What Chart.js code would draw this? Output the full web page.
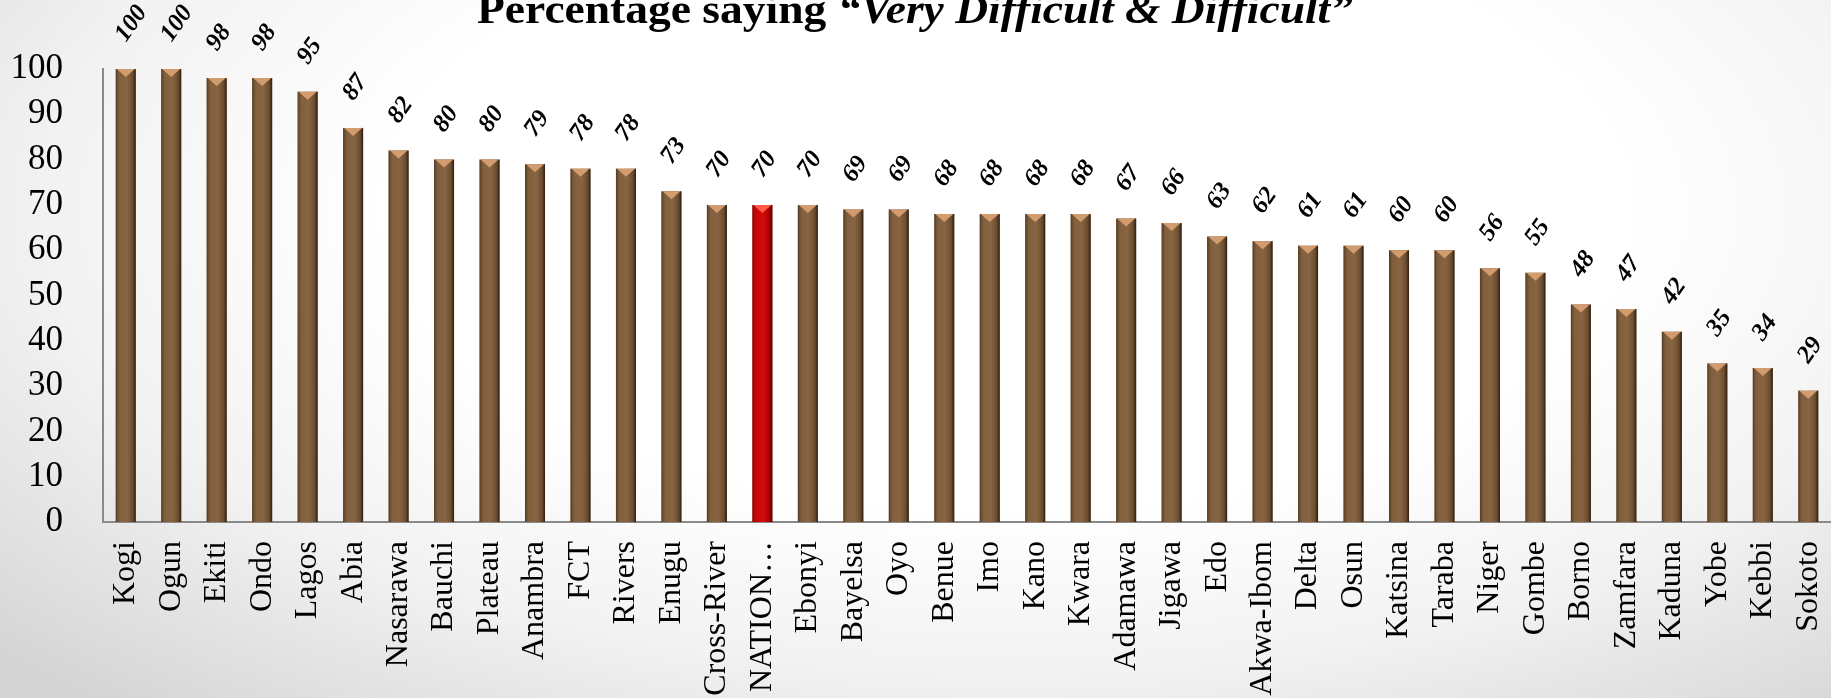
<!DOCTYPE html>
<html>
<head>
<meta charset="utf-8">
<script src="https://cdn.jsdelivr.net/npm/chart.js@4/dist/chart.umd.min.js"></script>
<style>
  html, body { margin: 0; padding: 0; }
  body {
    width: 1831px; height: 698px; overflow: hidden;
    background: radial-gradient(ellipse 75% 95% at 55% 30%, #ffffff 45%, #f2f2f2 70%, #d4d4d4 100%);
  }
  #c { display: block; }
</style>
</head>
<body>
<canvas id="c" width="1831" height="698"></canvas>
<script>
// ---- data ----
const categories = ["Kogi","Ogun","Ekiti","Ondo","Lagos","Abia","Nasarawa","Bauchi","Plateau","Anambra","FCT","Rivers","Enugu","Cross-River","NATION\u2026","Ebonyi","Bayelsa","Oyo","Benue","Imo","Kano","Kwara","Adamawa","Jigawa","Edo","Akwa-Ibom","Delta","Osun","Katsina","Taraba","Niger","Gombe","Borno","Zamfara","Kaduna","Yobe","Kebbi","Sokoto"];
const values = [100,100,98,98,95,87,82,80,80,79,78,78,73,70,70,70,69,69,68,68,68,68,67,66,63,62,61,61,60,60,56,55,48,47,42,35,34,29];
const highlightIndex = 14;
const yTicks = [0,10,20,30,40,50,60,70,80,90,100];
const titleMain = "Percentage saying ";
const titleItalic = "\u201CVery Difficult & Difficult\u201D";

const BROWN = '#7f5d3c';
const RED = '#c80000';

const barStyle = {
  id: 'barStyle',
  afterDatasetsDraw(chart) {
    const ctx = chart.ctx;
    const meta = chart.getDatasetMeta(0);
    meta.data.forEach((bar, i) => {
      const w = bar.width;
      const x0 = bar.x - w / 2, x1 = bar.x + w / 2;
      const top = bar.y, base = bar.base;
      const red = i === highlightIndex;
      ctx.save();
      const g = ctx.createLinearGradient(x0, 0, x1, 0);
      if (red) {
        g.addColorStop(0, 'rgba(60,0,0,0.55)');
        g.addColorStop(0.25, 'rgba(255,40,40,0.10)');
        g.addColorStop(0.55, 'rgba(255,60,60,0.18)');
        g.addColorStop(0.85, 'rgba(60,0,0,0.25)');
        g.addColorStop(1, 'rgba(30,0,0,0.75)');
      } else {
        g.addColorStop(0, 'rgba(40,25,10,0.55)');
        g.addColorStop(0.25, 'rgba(160,120,80,0.12)');
        g.addColorStop(0.55, 'rgba(170,130,90,0.20)');
        g.addColorStop(0.85, 'rgba(40,25,10,0.25)');
        g.addColorStop(1, 'rgba(20,10,0,0.8)');
      }
      ctx.fillStyle = g;
      ctx.fillRect(x0, top, w, base - top);
      const th = Math.min(8, base - top);
      ctx.beginPath();
      ctx.moveTo(x0 + 1, top);
      ctx.lineTo(x1 - 1, top);
      ctx.lineTo(bar.x, top + th);
      ctx.closePath();
      ctx.fillStyle = red ? '#ff5a4a' : '#d39c6e';
      ctx.fill();
      ctx.restore();
    });
  }
};

const dataLabels = {
  id: 'dataLabels',
  afterDatasetsDraw(chart) {
    const ctx = chart.ctx;
    const meta = chart.getDatasetMeta(0);
    ctx.save();
    ctx.font = 'italic bold 25px "Liberation Serif", serif';
    ctx.fillStyle = '#000';
    ctx.textAlign = 'left';
    ctx.textBaseline = 'middle';
    meta.data.forEach((bar, i) => {
      ctx.save();
      ctx.translate(bar.x - 5, bar.y - 30);
      ctx.rotate(-55 * Math.PI / 180);
      ctx.fillText(String(values[i]), 0, 0);
      ctx.restore();
    });
    ctx.restore();
  }
};

const titlePlugin = {
  id: 'titlePlugin',
  afterDraw(chart) {
    const ctx = chart.ctx;
    ctx.save();
    const f1 = 'bold 42px "Liberation Serif", serif';
    const f2 = 'italic bold 42px "Liberation Serif", serif';
    ctx.font = f1; const w1 = ctx.measureText(titleMain).width;
    ctx.font = f2; const w2 = ctx.measureText(titleItalic).width;
    const target = 876;
    const sx = target / (w1 + w2);
    const cx = 915;
    ctx.translate(cx - target / 2, 23);
    ctx.scale(sx, 1);
    ctx.fillStyle = '#000';
    ctx.textBaseline = 'alphabetic';
    ctx.textAlign = 'left';
    ctx.font = f1; ctx.fillText(titleMain, 0, 0);
    ctx.font = f2; ctx.fillText(titleItalic, w1, 0);
    ctx.restore();
  }
};

new Chart(document.getElementById('c'), {
  type: 'bar',
  data: {
    labels: categories,
    datasets: [{
      data: values,
      backgroundColor: values.map((v, i) => i === highlightIndex ? RED : BROWN),
      borderWidth: 0,
      barPercentage: 0.44,
      categoryPercentage: 1.0
    }]
  },
  options: {
    responsive: false,
    animation: false,
    devicePixelRatio: 1,
    layout: { padding: { top: 69, left: 0, right: 0, bottom: 0 } },
    plugins: { legend: { display: false }, tooltip: { enabled: false }, title: { display: false } },
    scales: {
      x: {
        offset: true,
        grid: { display: false, drawTicks: false },
        border: { display: true, color: '#8a8a8a', width: 2 },
        ticks: {
          autoSkip: false, minRotation: 90, maxRotation: 90, padding: 19,
          color: '#000',
          font: { family: '"Liberation Serif", serif', size: 32 }
        },
        afterFit(scale) { scale.height = 176; scale.paddingRight = 0; scale.paddingLeft = 0; }
      },
      y: {
        min: 0, max: 100,
        grid: { display: false, drawTicks: false },
        border: { display: true, color: '#8a8a8a', width: 2 },
        afterBuildTicks(scale) { scale.ticks = yTicks.map(v => ({ value: v })); },
        ticks: {
          padding: 40, color: '#000',
          font: { family: '"Liberation Serif", serif', size: 35 }
        },
        afterFit(scale) { scale.width = 103; scale.paddingTop = 0; scale.paddingBottom = 0; }
      }
    }
  },
  plugins: [barStyle, dataLabels, titlePlugin]
});
</script>
</body>
</html>
